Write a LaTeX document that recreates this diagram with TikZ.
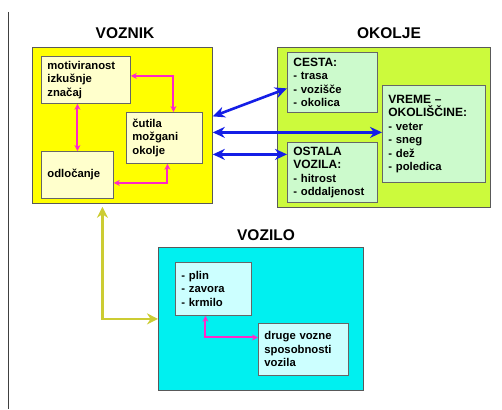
\documentclass[tikz,border=0pt]{standalone}
\usepackage{fontspec}
\setmainfont{Liberation Sans}
\usetikzlibrary{arrows.meta,positioning}
\definecolor{voznikYellow}{RGB}{255,255,0}
\definecolor{voznikInner}{RGB}{255,255,204}
\definecolor{okoljeGreen}{RGB}{204,250,60}
\definecolor{okoljeInner}{RGB}{204,250,204}
\definecolor{voziloCyan}{RGB}{0,240,240}
\definecolor{voziloInner}{RGB}{204,255,255}
\definecolor{linkPink}{RGB}{255,40,200}
\definecolor{linkBlue}{RGB}{20,30,230}
\definecolor{linkOlive}{RGB}{204,204,51}
\newcommand{\hd}{\fontsize{12}{13.5}\selectfont}

\begin{document}
\begin{tikzpicture}[x=1pt,y=-1pt,
    every node/.style={font=\bfseries},
    area/.style={draw=black!65,line width=0.8pt,anchor=north west,inner sep=0pt},
    title/.style={font=\fontsize{15.5}{17}\selectfont\bfseries},
    inbox/.style={draw=black!60,line width=0.8pt,anchor=north west,align=left,
      inner xsep=6pt,inner ysep=2pt,font=\fontsize{11.3}{13.5}\selectfont\bfseries},
    pinkarrow/.style={linkPink,line width=2pt,{Stealth[length=6pt,width=6pt]}-{Stealth[length=6pt,width=6pt]}},
    bluearrow/.style={linkBlue,line width=2.6pt,{Stealth[length=12pt,width=11pt]}-{Stealth[length=12pt,width=11pt]}},
    olivearrow/.style={linkOlive,line width=2.6pt,{Stealth[length=11pt,width=11pt]}-{Stealth[length=11pt,width=11pt]}}]

  \useasboundingbox (0,0) rectangle (502,409);

  % margin rule on the left
  \draw [black!75,line width=0.8pt] (8,12) -- (8,409);

  % the three areas
  \node[area,fill=voznikYellow,minimum width=180pt,minimum height=156pt] (voznik) at (32,47) {};
  \node[area,fill=okoljeGreen,minimum width=213pt,minimum height=160pt] (okolje) at (277,47) {};
  \node[area,fill=voziloCyan,minimum width=205pt,minimum height=143pt] (vozilo) at (158,247) {};

  \node[title] (tvoznik) at (125,33) {VOZNIK};
  \node[title] (tokolje) at (389,33) {OKOLJE};
  \node[title] (tvozilo) at (266,235) {VOZILO};

  % voznik
  \node[inbox,fill=voznikInner,text width=77pt,minimum height=47pt] (motiv) at (41,56)
    {motiviranost\\izkušnje\\značaj};
  \node[inbox,fill=voznikInner,text width=64pt,minimum height=51pt] (cutila) at (126,112)
    {čutila\\možgani\\okolje};
  \node[inbox,fill=voznikInner,text width=60pt,minimum height=47pt] (odloc) at (41,151)
    {odločanje};

  % okolje
  \node[inbox,fill=okoljeInner,text width=78pt,minimum height=60pt] (cesta) at (287,52)
    {{\hd CESTA:}\\- trasa\\- vozišče\\- okolica};
  \node[inbox,fill=okoljeInner,text width=91pt,minimum height=97pt] (vreme) at (382,85)
    {{\hd VREME –}\\{\hd OKOLIŠČINE:}\\- veter\\- sneg\\- dež\\- poledica\\[4pt]};
  \node[inbox,fill=okoljeInner,text width=78pt,minimum height=60pt] (ostala) at (287,142)
    {{\hd OSTALA}\\{\hd VOZILA:}\\- hitrost\\- oddaljenost};

  % vozilo
  \node[inbox,fill=voziloInner,text width=64pt,minimum height=53pt] (plin) at (175,262)
    {- plin\\- zavora\\- krmilo};
  \node[inbox,fill=voziloInner,text width=78pt,minimum height=52pt] (druge) at (258,323)
    {druge vozne\\sposobnosti\\vozila};

  % links inside voznik
  \draw[pinkarrow] (odloc.north) -- (odloc.north |- motiv.south);
  \draw[pinkarrow] ([yshift=4pt]motiv.east) -| ([xshift=9pt]cutila.north);
  \draw[pinkarrow] ([xshift=3pt]cutila.south) |- ([yshift=-8pt]odloc.east);

  % voznik <-> okolje
  \draw[bluearrow] ([yshift=9pt]voznik.east) -- ([yshift=-6pt]cesta.west);
  \draw[bluearrow] ([yshift=-7pt]voznik.east) -- ([yshift=-7pt]voznik.east -| vreme.west);
  \draw[bluearrow] ([yshift=-29pt]voznik.east) -- ([yshift=-29pt]voznik.east -| ostala.west);

  % voznik <-> vozilo
  \draw[olivearrow,shorten <=3pt] ([xshift=-20pt]voznik.south) |- (vozilo.west);

  % link inside vozilo
  \draw[pinkarrow] ([xshift=-8pt]plin.south) |- ([yshift=12pt]druge.west);

\end{tikzpicture}
\end{document}
